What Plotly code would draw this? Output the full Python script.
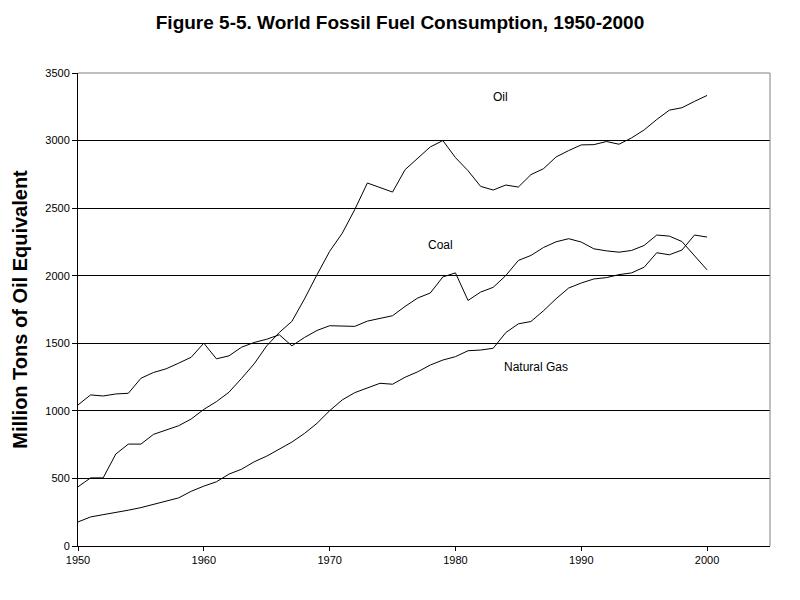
import plotly.graph_objects as go

years = list(range(1950, 2001))

coal = [1044, 1118, 1110, 1125, 1130, 1241, 1284, 1311, 1353, 1397,
        1501, 1385, 1407, 1471, 1506, 1530, 1563, 1481, 1543, 1595,
        1630, 1630, 1625, 1664, 1684, 1704, 1773, 1835, 1872, 1991,
        2021, 1817, 1879, 1914, 2001, 2113, 2150, 2209, 2251, 2274,
        2249, 2199, 2184, 2174, 2187, 2224, 2301, 2293, 2253, 2150, 2043]
oil = [438, 504, 504, 680, 754, 754, 826, 858, 890, 940,
       1011, 1068, 1138, 1240, 1348, 1481, 1580, 1662, 1828, 2008,
       2180, 2314, 2490, 2686, 2653, 2619, 2785, 2871, 2953, 3000,
       2874, 2777, 2661, 2634, 2671, 2656, 2748, 2792, 2879, 2926,
       2968, 2970, 2993, 2973, 3020, 3079, 3156, 3225, 3243, 3290, 3334]
gas = [178, 215, 232, 247, 265, 284, 309, 334, 356, 405,
       443, 475, 532, 568, 623, 665, 715, 769, 833, 908,
       1001, 1081, 1135, 1172, 1204, 1197, 1249, 1289, 1339, 1376,
       1401, 1445, 1450, 1463, 1579, 1644, 1661, 1741, 1830, 1909,
       1946, 1976, 1986, 2008, 2021, 2063, 2170, 2155, 2190, 2301, 2286]

labels = ["Oil", "Coal", "Natural Gas"]
label_x = [1983.6, 1978.8, 1986.4]
label_y = [3321, 2231, 1328]

x_ticks = [1950, 1960, 1970, 1980, 1990, 2000]
y_ticks = [0, 500, 1000, 1500, 2000, 2500, 3000, 3500]

FONT = "Liberation Sans, Arial"

fig = go.Figure()
for name, vals in [("Oil", oil), ("Coal", coal), ("Natural Gas", gas)]:
    fig.add_trace(go.Scatter(x=years, y=vals, mode="lines", name=name,
                             line=dict(color="black", width=1)))

for t, xx, yy in zip(labels, label_x, label_y):
    fig.add_annotation(x=xx, y=yy, text=t, showarrow=False,
                       font=dict(family=FONT, size=12, color="black"))

# gray top/right frame
fig.add_shape(type="line", xref="paper", yref="paper", x0=0, x1=1, y0=1, y1=1,
              line=dict(color="#808080", width=1))
fig.add_shape(type="line", xref="paper", yref="paper", x0=1, x1=1, y0=0, y1=1,
              line=dict(color="#808080", width=1))

fig.update_layout(
    width=800, height=600,
    margin=dict(l=78, r=30, t=73, b=54),
    paper_bgcolor="white", plot_bgcolor="white",
    showlegend=False,
    font=dict(family=FONT, size=11, color="black"),
    title=dict(text="<b>Figure 5-5. World Fossil Fuel Consumption, 1950-2000</b>",
               x=0.5, xanchor="center", y=0.963, yanchor="middle",
               font=dict(family=FONT, size=19, color="black")),
    xaxis=dict(range=[1950, 2005], tickvals=x_ticks, ticks="outside", ticklen=4,
               tickcolor="black", showline=True, linecolor="black", linewidth=1,
               showgrid=False, zeroline=False,
               tickfont=dict(family=FONT, size=11)),
    yaxis=dict(range=[0, 3500], tickvals=y_ticks, ticks="outside", ticklen=5,
               tickcolor="black", showline=True, linecolor="black", linewidth=1,
               showgrid=True, gridcolor="black", gridwidth=1, zeroline=False,
               tickfont=dict(family=FONT, size=11),
               title=dict(text="<b>Million Tons of Oil Equivalent</b>", standoff=12,
                          font=dict(family=FONT, size=20))),
)

fig.write_html("out.html")
